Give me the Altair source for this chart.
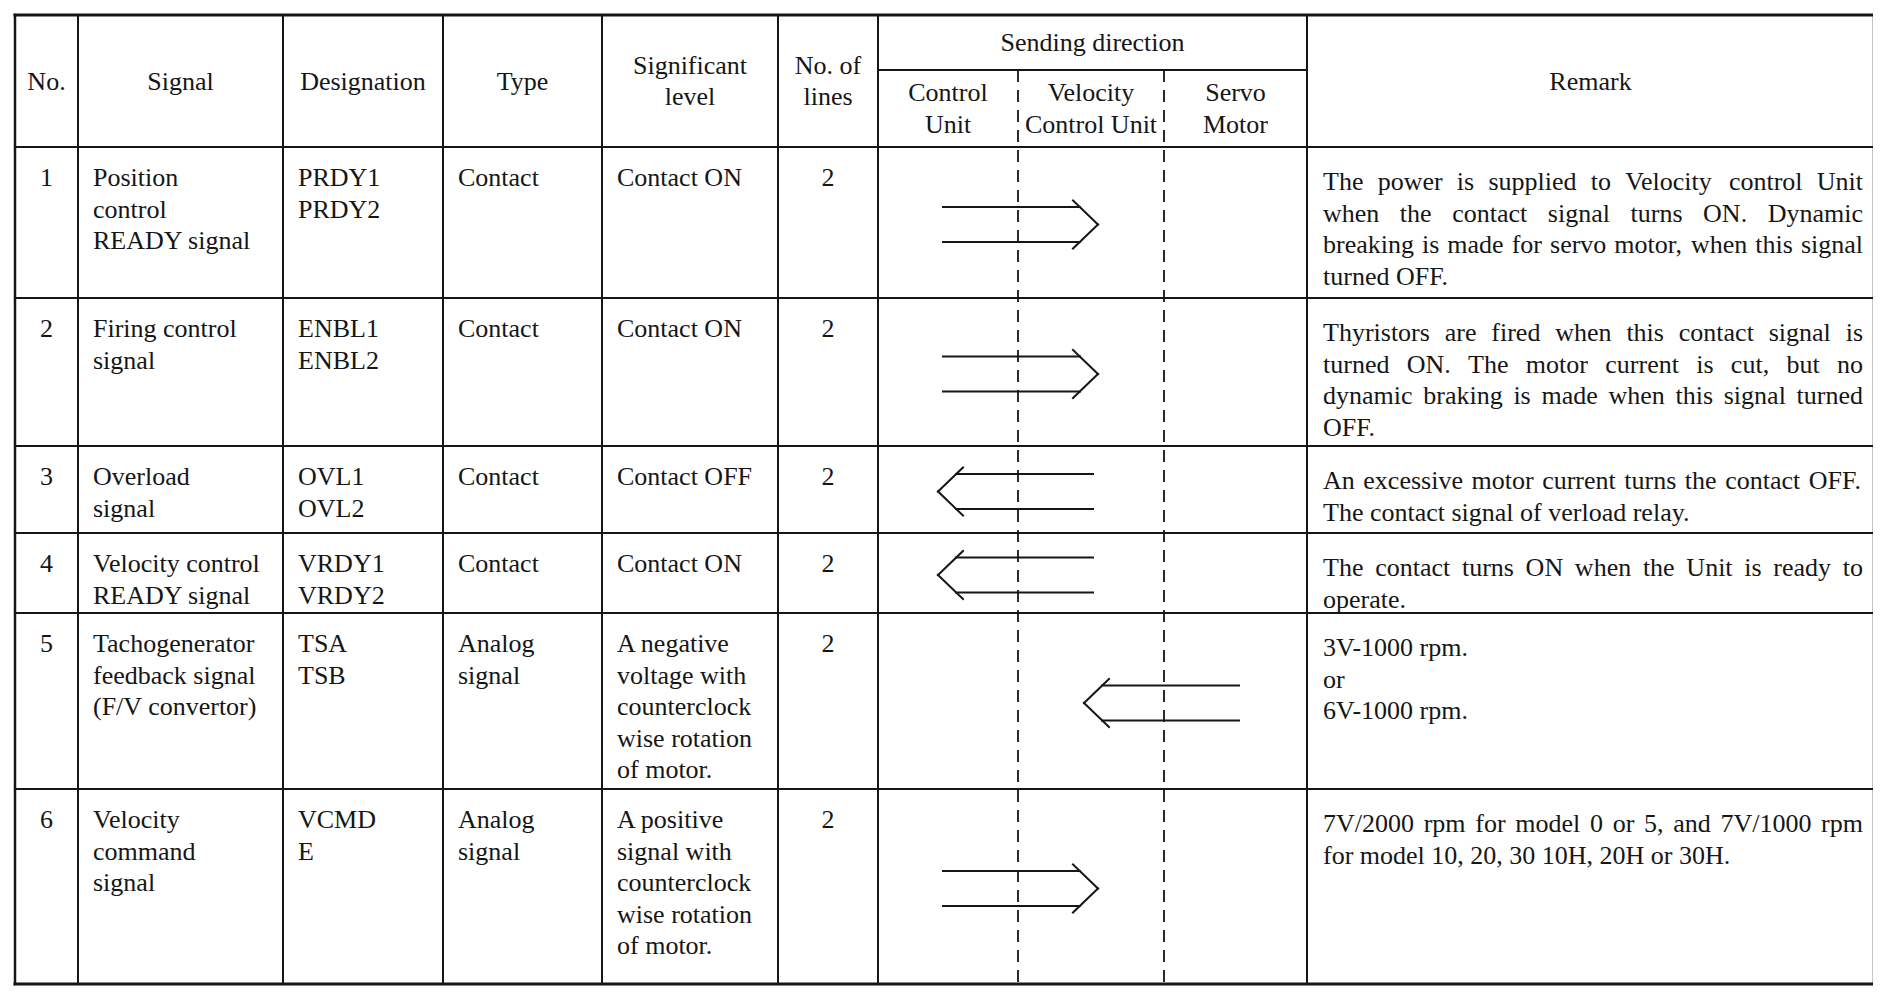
import altair as alt
import pandas as pd

# ---------------- table content ----------------
header_cols = [["No."], ["Signal"], ["Designation"], ["Type"], ["Significant", "level"], ["No. of", "lines"]]
group_title = "Sending direction"
unit_labels = [["Control", "Unit"], ["Velocity", "Control Unit"], ["Servo", "Motor"]]
units = ["Control Unit", "Velocity Control Unit", "Servo Motor"]
remark_title = "Remark"

numbers = ["1", "2", "3", "4", "5", "6"]
signals = [
    ["Position", "control", "READY signal"],
    ["Firing control", "signal"],
    ["Overload", "signal"],
    ["Velocity control", "READY signal"],
    ["Tachogenerator", "feedback signal", "(F/V convertor)"],
    ["Velocity", "command", "signal"],
]
designations = [["PRDY1", "PRDY2"], ["ENBL1", "ENBL2"], ["OVL1", "OVL2"],
                ["VRDY1", "VRDY2"], ["TSA", "TSB"], ["VCMD", "E"]]
types = [["Contact"], ["Contact"], ["Contact"], ["Contact"], ["Analog", "signal"], ["Analog", "signal"]]
levels = [
    ["Contact ON"], ["Contact ON"], ["Contact OFF"], ["Contact ON"],
    ["A negative", "voltage with", "counterclock", "wise rotation", "of motor."],
    ["A positive", "signal with", "counterclock", "wise rotation", "of motor."],
]
n_lines = ["2", "2", "2", "2", "2", "2"]
senders = ["Control Unit", "Control Unit", "Velocity Control Unit",
           "Velocity Control Unit", "Servo Motor", "Control Unit"]
receivers = ["Velocity Control Unit", "Velocity Control Unit", "Control Unit",
             "Control Unit", "Velocity Control Unit", "Velocity Control Unit"]
# each remark = list of paragraphs, each paragraph = list of lines
remarks = [
    [["The power is supplied to Velocity control Unit",
      "when the contact signal turns ON.  Dynamic",
      "breaking is made for servo motor, when this signal",
      "turned OFF."]],
    [["Thyristors are fired when this contact signal is",
      "turned ON.  The motor current is cut, but no",
      "dynamic braking is made when this signal turned",
      "OFF."]],
    [["An excessive motor current turns the contact OFF.",
      "The contact signal of verload relay."]],
    [["The contact turns ON when the Unit is ready to",
      "operate."]],
    [["3V-1000 rpm."], ["or"], ["6V-1000 rpm."]],
    [["7V/2000 rpm for model 0 or 5, and 7V/1000 rpm",
      "for model 10, 20, 30 10H, 20H or 30H."]],
]

# ---------------- layout (page pixels) ----------------
FONT = "Liberation Serif"
FS = 26
INK = "#161616"
COL = [15, 78, 283, 443, 602, 778, 878, 1307, 1874]
ROW = [15, 147, 298, 446, 533, 613, 789, 984]
SUB = 70
DASH = [1018, 1164]
UNIT_X = [COL[6], DASH[0], DASH[1], COL[7]]
PAD = 15
FIRST = 39
REM_FIRST = 43
LEAD = 31.5
HALF_CAP = 8.6
RIGHT_JUST = 1863

# Times-compatible advance widths (per 1000 em) for justification
ADV = {}
for chars, w in [(" ,.", 250), ("/:;ijlt", 278), ("!()-frI'", 333), ("sJ", 389),
                 ("acez?", 444), ("bdghknopquvxy0123456789*#$", 500), ("FPS", 556),
                 ("+<=>", 564), ("ELTZ", 611), ("BCR", 667), ("ADGHKNOQUVXYw", 722),
                 ("m&", 778), ("%", 833), ("M", 889), ("W", 944)]:
    for ch in chars:
        ADV[ch] = w


def width(s):
    return sum(ADV.get(ch, 500) for ch in s) / 1000.0 * FS


texts = []


def put(x, y, s, align):
    texts.append(dict(x=x, y=y, text=s, align=align))


def centered_block(lines, cx, cy):
    n = len(lines)
    for j, s in enumerate(lines):
        put(cx, cy + (j - (n - 1) / 2) * LEAD + HALF_CAP, s, "center")


# header
hc = (ROW[0] + ROW[1]) / 2
for i, lines in enumerate(header_cols):
    centered_block(lines, (COL[i] + COL[i + 1]) / 2, hc)
centered_block([group_title], (COL[6] + COL[7]) / 2, (ROW[0] + SUB) / 2)
for k, lines in enumerate(unit_labels):
    centered_block(lines, (UNIT_X[k] + UNIT_X[k + 1]) / 2, (SUB + ROW[1]) / 2)
centered_block([remark_title], (COL[7] + COL[8]) / 2, hc)

# body rows
for r in range(6):
    top = ROW[r + 1]
    y0 = top + FIRST
    put((COL[0] + COL[1]) / 2, y0, numbers[r], "center")
    for c, cell in [(1, signals[r]), (2, designations[r]), (3, types[r]), (4, levels[r])]:
        for j, s in enumerate(cell):
            put(COL[c] + PAD, y0 + j * LEAD, s, "left")
    put((COL[5] + COL[6]) / 2, y0, n_lines[r], "center")
    # remarks (justified except last line of each paragraph)
    x0 = COL[7] + PAD + 1
    li = 0
    for para in remarks[r]:
        for j, s in enumerate(para):
            y = top + REM_FIRST + li * LEAD
            words = s.split()
            if j < len(para) - 1 and len(words) > 1:
                total = sum(width(w) for w in words)
                gap = (RIGHT_JUST - x0 - total) / (len(words) - 1)
                x = x0
                for w in words:
                    put(x, y, w, "left")
                    x += width(w) + gap
            else:
                put(x0, y, s, "left")
            li += 1

text_df = pd.DataFrame(texts)

# ---------------- grid lines ----------------
segs = []


def seg(x, y, x2, y2, w):
    segs.append(dict(x=x, y=y, x2=x2, y2=y2, w=w))


seg(COL[0], ROW[0], COL[-1], ROW[0], 3.0)
seg(COL[0], ROW[-1], COL[-1], ROW[-1], 3.0)
for yy in ROW[1:-1]:
    seg(COL[0], yy, COL[-1], yy, 2.1)
for xx in [COL[0], COL[-1]]:
    seg(xx, ROW[0], xx, ROW[-1], 2.5)
for xx in COL[1:-1]:
    seg(xx, ROW[0], xx, ROW[-1], 2.0)
seg(COL[6], SUB, COL[7], SUB, 2.0)

# arrows
for r in range(6):
    s = units.index(senders[r])
    t = units.index(receivers[r])
    d = 1 if t > s else -1
    b = UNIT_X[max(s, t)]
    tail = b - d * 75
    tip = b + d * 80
    ym = (ROW[r + 1] + ROW[r + 2]) / 2 + 2
    for sgn in (-1, 1):
        seg(tail, ym + sgn * 17.5, tip - d * 18, ym + sgn * 17.5, 2.0)
        seg(tip - d * 25, ym + sgn * 24, tip, ym, 2.0)

seg_df = pd.DataFrame(segs)
dash_df = pd.DataFrame({"x": DASH, "y": [SUB, SUB], "y2": [ROW[-1], ROW[-1]]})

# ---------------- chart ----------------
X = alt.X("x:Q", scale=alt.Scale(domain=[8, 1873], nice=False, zero=False), axis=None)
Y = alt.Y("y:Q", scale=alt.Scale(domain=[986, 8], nice=False, zero=False), axis=None)

rules = alt.Chart(seg_df).mark_rule(color=INK, strokeCap="square").encode(
    x=X, y=Y, x2="x2:Q", y2="y2:Q", strokeWidth=alt.StrokeWidth("w:Q", scale=None)
)
dashes = alt.Chart(dash_df).mark_rule(color=INK, strokeWidth=1.8, strokeDash=[12, 8]).encode(
    x=X, y=Y, y2="y2:Q"
)
left_txt = alt.Chart(text_df[text_df["align"] == "left"]).mark_text(
    align="left", baseline="alphabetic", font=FONT, fontSize=FS, color=INK
).encode(x=X, y=Y, text="text:N")
center_txt = alt.Chart(text_df[text_df["align"] == "center"]).mark_text(
    align="center", baseline="alphabetic", font=FONT, fontSize=FS, color=INK
).encode(x=X, y=Y, text="text:N")

chart = alt.layer(rules, dashes, left_txt, center_txt).properties(
    width=1865, height=978, padding=0, autosize=alt.AutoSizeParams(type="none"),
    background="white",
).configure_view(strokeOpacity=0)

chart.save("out.html", embed_options={"renderer": "svg", "actions": False})
